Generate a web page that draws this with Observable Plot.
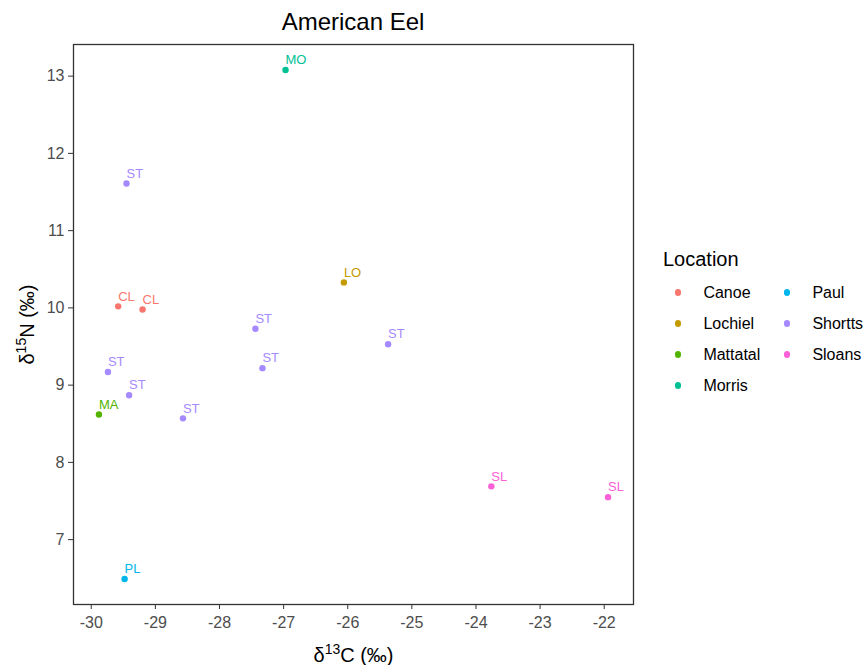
<!DOCTYPE html>
<html>
<head>
<meta charset="utf-8">
<script src="https://cdn.jsdelivr.net/npm/d3@7"></script>
<script src="https://cdn.jsdelivr.net/npm/@observablehq/plot@0.6"></script>
<style>
  body { margin: 0; background: #fff; font-family: "Liberation Sans", Arial, sans-serif; }
  #wrap { position: relative; width: 867px; height: 665px; }
  #title { height: 40px; line-height: 44px; margin-left: 73px; width: 560px; text-align: center; font-size: 24px; color: #000; white-space: nowrap; }
  #legend { position: absolute; left: 663px; top: 249px; color: #000; }
  #legend .ttl { font-size: 20px; line-height: 20px; }
  #legend .grid { display: grid; grid-auto-flow: column; grid-template-rows: repeat(4, 31px); grid-template-columns: 109px 80px; margin-left: 12px; margin-top: 8px; }
  #legend .item { display: flex; align-items: center; font-size: 16px; line-height: 16px; white-space: nowrap; }
  #legend .dot { width: 6.4px; height: 6.4px; border-radius: 50%; margin-right: 22px; flex: none; }
</style>
</head>
<body>
<div id="wrap">
  <div id="title">American Eel</div>
  <div id="chart"></div>
  <div id="legend"></div>
</div>
<script>
// Sampling locations and their legend colours
const locations = ["Canoe", "Lochiel", "Mattatal", "Morris", "Paul", "Shortts", "Sloans"];
const locationColors = ["#F8766D", "#C49A00", "#53B400", "#00C094", "#00B6EB", "#A58AFF", "#FB61D7"];

// One entry per eel: site, site code, carbon and nitrogen isotope ratios
const sampleLocation = ["Morris", "Shortts", "Canoe", "Canoe", "Shortts", "Shortts", "Shortts", "Mattatal",
  "Shortts", "Shortts", "Paul", "Lochiel", "Shortts", "Sloans", "Sloans"];
const sampleCode = ["MO", "ST", "CL", "CL", "ST", "ST", "ST", "MA", "ST", "ST", "PL", "LO", "ST", "SL", "SL"];
const d13C = [-26.97, -29.45, -29.58, -29.20, -27.44, -29.74, -29.41, -29.88, -28.57, -27.33, -29.48, -26.06, -25.37, -23.76, -21.94];
const d15N = [13.08, 11.61, 10.02, 9.98, 9.73, 9.17, 8.87, 8.62, 8.57, 9.22, 6.49, 10.33, 9.53, 7.69, 7.55];

const xTicks = [-30, -29, -28, -27, -26, -25, -24, -23, -22];
const yTicks = [7, 8, 9, 10, 11, 12, 13];

const rows = sampleLocation.map((loc, i) => ({loc, code: sampleCode[i], c: d13C[i], n: d15N[i]}));

// Pad each axis by 5% of the data range
function padded(values) {
  const [lo, hi] = d3.extent(values);
  const p = (hi - lo) * 0.05;
  return [lo - p, hi + p];
}

// Plain hyphen-minus for negative tick labels
const plain = d => String(d);

const plot = Plot.plot({
  width: 867,
  height: 625,
  marginTop: 4,
  marginBottom: 61,
  marginLeft: 73,
  marginRight: 234,
  style: {fontFamily: "'Liberation Sans', Arial, sans-serif", fontSize: "16px", background: "#fff", overflow: "visible"},
  x: {domain: padded(d13C)},
  y: {domain: padded(d15N)},
  color: {domain: locations, range: locationColors},
  marks: [
    Plot.axisX({ticks: xTicks, tickFormat: plain, tickSize: 5, tickPadding: 7, fill: "#4D4D4D", stroke: "#333", fontSize: 16, label: null}),
    Plot.axisY({ticks: yTicks, tickFormat: plain, tickSize: 5, tickPadding: 4, fill: "#4D4D4D", stroke: "#333", fontSize: 16, label: null}),
    Plot.axisX({ticks: [], label: "δ13C (‰)", labelAnchor: "center", labelOffset: 57, fontSize: 20, fill: "#000"}),
    Plot.axisY({ticks: [], label: "δ15N (‰)", labelAnchor: "center", labelOffset: 54, fontSize: 20, fill: "#000"}),
    Plot.frame({stroke: "#333", strokeWidth: 1.3}),
    Plot.dot(rows, {x: "c", y: "n", fill: "loc", r: 3.2}),
    Plot.text(rows, {x: "c", y: "n", text: "code", fill: "loc", textAnchor: "start", dy: -10, fontSize: 13})
  ]
});
document.getElementById("chart").appendChild(plot);

// Superscript isotope mass numbers in the axis titles
function superscriptLabel(selector, mass, element) {
  const t = d3.select(plot).select(selector + " text");
  if (t.empty()) return;
  t.text(null);
  t.append("tspan").text("δ");
  t.append("tspan").attr("baseline-shift", "super").attr("font-size", "70%").text(mass);
  t.append("tspan").text(element + " (‰)");
}
superscriptLabel('g[aria-label="x-axis label"]', "13", "C");
superscriptLabel('g[aria-label="y-axis label"]', "15", "N");

// Legend: four rows, filled column by column
const color = plot.scale("color");
const legend = d3.select("#legend");
legend.append("div").attr("class", "ttl").text("Location");
const grid = legend.append("div").attr("class", "grid");
color.domain.forEach((name, i) => {
  const item = grid.append("div").attr("class", "item");
  item.append("span").attr("class", "dot").style("background", color.range[i]);
  item.append("span").text(name);
});
</script>
</body>
</html>
